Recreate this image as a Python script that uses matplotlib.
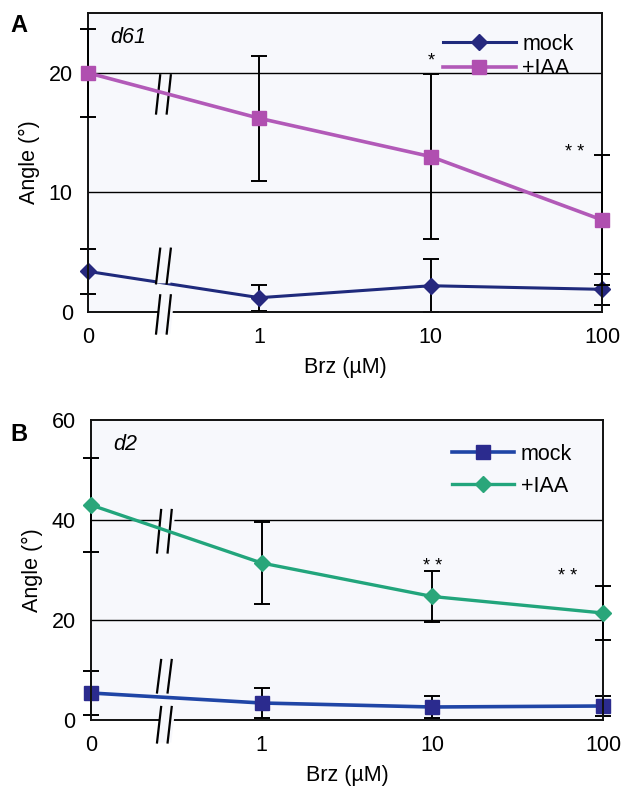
import numpy as np
import matplotlib
matplotlib.use('Agg')
import matplotlib.pyplot as plt
from matplotlib.patches import Polygon

plt.rcParams['font.family'] = ['Liberation Sans', 'DejaVu Sans']

# data
brz_labels = ['0', '1', '10', '100']

d61_mock = [3.4, 1.2, 2.2, 1.9]
d61_mock_err = [1.9, 1.1, 2.2, 1.3]
d61_iaa = [20.0, 16.2, 13.0, 7.7]
d61_iaa_err = [3.7, 5.2, 6.9, 5.4]

d2_mock = [5.4, 3.4, 2.6, 2.8]
d2_mock_err = [4.4, 3.0, 2.2, 2.0]
d2_iaa = [43.0, 31.4, 24.7, 21.4]
d2_iaa_err = [9.4, 8.2, 5.1, 5.4]

MAGENTA = '#b25ab8'
NAVY = '#1f2a7c'
GREEN = '#22a57c'
BLUE = '#1f45a6'
BG = '#f7f8fc'
FS = 15.5


def draw_break(ax, xc, y0, y1, dx, gap):
    # two slanted strokes with a white band between them
    xs_l = [xc - gap / 2 - dx, xc - gap / 2 + dx]
    xs_r = [xc + gap / 2 - dx, xc + gap / 2 + dx]
    poly = Polygon([(xs_l[0], y0), (xs_l[1], y1), (xs_r[1] + gap * 0.35, y1),
                    (xs_r[0] + gap * 0.35, y0)], closed=True,
                   facecolor=BG, edgecolor='none', zorder=3, clip_on=False)
    ax.add_patch(poly)
    ax.plot(xs_l, [y0, y1], color='black', lw=1.6, zorder=3.2, clip_on=False)
    ax.plot(xs_r, [y0, y1], color='black', lw=1.6, zorder=3.2, clip_on=False)


def panel(ax, mock, mock_err, iaa, iaa_err, mock_style, iaa_style, ymax, yticks):
    x = np.arange(len(brz_labels))
    ax.set_facecolor(BG)
    ax.set_xlim(0, 3)
    ax.set_ylim(0, ymax)
    for yv in yticks[1:]:
        if yv < ymax:
            ax.axhline(yv, color='black', lw=1.0, zorder=1)

    ax.errorbar(x, mock, yerr=mock_err, fmt='none', ecolor='black',
                elinewidth=1.4, capsize=6, capthick=1.4, zorder=2.2, clip_on=False)
    ax.errorbar(x, iaa, yerr=iaa_err, fmt='none', ecolor='black',
                elinewidth=1.4, capsize=6, capthick=1.4, zorder=3.5, clip_on=False)
    ax.plot(x, mock, label='mock', zorder=2.5, clip_on=False, **mock_style)
    ax.plot(x, iaa, label='+IAA', zorder=4, clip_on=False, **iaa_style)

    ax.set_xticks(x)
    ax.set_xticklabels(brz_labels)
    ax.set_yticks(yticks)
    ax.tick_params(length=0, labelsize=FS, pad=11)
    for s in ax.spines.values():
        s.set_linewidth(1.4)
        s.set_color('#111111')
    ax.set_ylabel('Angle (°)', fontsize=FS, labelpad=6)
    ax.set_xlabel('Brz (µM)', fontsize=FS, labelpad=6)


fig = plt.figure(figsize=(6.27, 7.88), dpi=100)
axA = fig.add_axes([0.1404, 0.604, 0.820, 0.3794])
axB = fig.add_axes([0.1451, 0.0863, 0.8166, 0.3807])

panel(axA, d61_mock, d61_mock_err, d61_iaa, d61_iaa_err,
      dict(color=NAVY, lw=2.2, marker='D', ms=8.5, mfc='#26287e', mec='#26287e'),
      dict(color=MAGENTA, lw=2.6, marker='s', ms=10.5, mfc='#b04fb0', mec='#b04fb0'),
      25, [0, 10, 20])
panel(axB, d2_mock, d2_mock_err, d2_iaa, d2_iaa_err,
      dict(color=BLUE, lw=2.6, marker='s', ms=10.5, mfc='#2b2b8e', mec='#2b2b8e'),
      dict(color=GREEN, lw=2.4, marker='D', ms=8.5, mfc='#2aa67a', mec='#2aa67a'),
      60, [0, 20, 40, 60])

# axis breaks
draw_break(axA, 0.44, 16.6, 19.8, 0.012, 0.062)
draw_break(axA, 0.44, 2.4, 5.3, 0.012, 0.062)
draw_break(axA, 0.44, -1.8, 1.4, 0.012, 0.062)
draw_break(axB, 0.43, 33.5, 42.0, 0.012, 0.062)
draw_break(axB, 0.43, 5.5, 12.0, 0.012, 0.062)
draw_break(axB, 0.43, -4.5, 2.6, 0.012, 0.062)

# significance marks
axA.text(2.0, 20.3, '*', ha='center', va='bottom', fontsize=13)
axA.text(2.84, 12.6, '* *', ha='center', va='bottom', fontsize=13)
axB.text(2.0, 29.0, '* *', ha='center', va='bottom', fontsize=13)
axB.text(2.79, 27.0, '* *', ha='center', va='bottom', fontsize=13)

# legends
axA.legend(loc='upper left', bbox_to_anchor=(0.69, 0.93), frameon=False,
           fontsize=FS, handlelength=3.4, handletextpad=0.3, labelspacing=0.15,
           borderpad=0, borderaxespad=0)
axB.legend(loc='upper left', bbox_to_anchor=(0.705, 0.92), frameon=False,
           fontsize=FS, handlelength=2.9, handletextpad=0.3, labelspacing=0.5,
           borderpad=0, borderaxespad=0)

axA.text(0.043, 0.955, 'd61', transform=axA.transAxes, style='italic',
         fontsize=FS, va='top')
axB.text(0.043, 0.955, 'd2', transform=axB.transAxes, style='italic',
         fontsize=FS, va='top')

fig.text(0.016, 0.982, 'A', fontsize=17, fontweight='bold', va='top')
fig.text(0.016, 0.463, 'B', fontsize=17, fontweight='bold', va='top')

fig.savefig('out.png', dpi=100)
